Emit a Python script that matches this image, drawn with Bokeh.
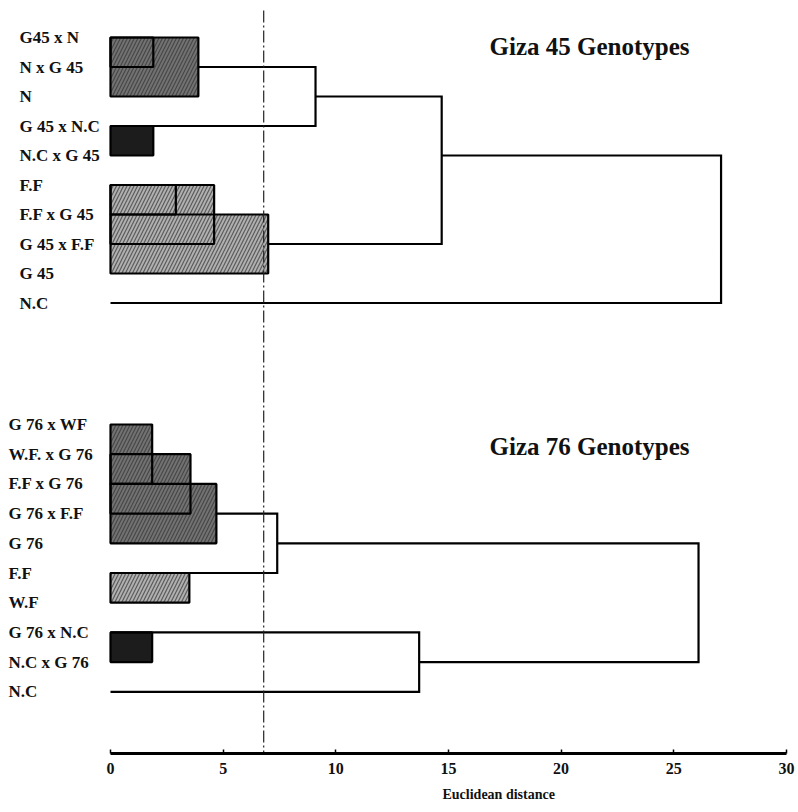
from bokeh.plotting import figure
from bokeh.models import Range1d, FixedTicker, Title
from bokeh.core.properties import value
from bokeh.embed import file_html
from bokeh.resources import INLINE

# ---------------- data ----------------
top_title = "Giza 45 Genotypes"
top_labels = ["G45 x N", "N x G 45", "N", "G 45 x N.C", "N.C x G 45",
              "F.F", "F.F x G 45", "G 45 x F.F", "G 45", "N.C"]
# boxes: first row, last row, distance, shade
top_box_first = [0, 0, 3, 5, 5, 6]
top_box_last = [1, 2, 4, 6, 7, 8]
top_box_dist = [1.9, 3.9, 1.9, 2.9, 4.6, 7.0]
top_box_shade = ["mid", "mid", "dark", "light", "light", "light"]
# merges: upper row, upper start, lower row, lower start, merge distance
top_m_row_a = [1, 2, 4]
top_m_from_a = [3.9, 9.1, 14.7]
top_m_row_b = [3, 7, 9]
top_m_from_b = [0.0, 7.0, 0.0]
top_m_dist = [9.1, 14.7, 27.1]

bot_title = "Giza 76 Genotypes"
bot_labels = ["G 76 x WF", "W.F. x G 76", "F.F x G 76", "G 76 x F.F", "G 76",
              "F.F", "W.F", "G 76 x N.C", "N.C x G 76", "N.C"]
bot_box_first = [0, 1, 2, 5, 7]
bot_box_last = [2, 3, 4, 6, 8]
bot_box_dist = [1.85, 3.55, 4.7, 3.5, 1.85]
bot_box_shade = ["mid", "mid", "mid", "light", "dark"]
bot_m_row_a = [3, 7, 4]
bot_m_from_a = [4.7, 0.0, 7.4]
bot_m_row_b = [5, 9, 8]
bot_m_from_b = [0.0, 0.0, 13.7]
bot_m_dist = [7.4, 13.7, 26.1]

cutoff = 6.8
x_ticks = [0, 5, 10, 15, 20, 25, 30]
x_title = "Euclidean distance"

# ---------------- layout ----------------
SERIF = "Liberation Serif"
PX = 22.53          # pixels per distance unit
ZERO_PX = 110       # screen x of distance 0
FW = 796
shade_fill = {"mid": "#727272", "light": "#b0b0b0", "dark": "#1c1c1c"}
shade_hatch_alpha = {"mid": 0.55, "light": 0.6, "dark": 0.0}

x0 = -ZERO_PX / PX
p = figure(frame_width=FW, frame_height=753, output_backend="svg",
           toolbar_location=None, y_axis_location=None,
           x_range=Range1d(x0, x0 + FW / PX), y_range=Range1d(753, 0),
           min_border=0, background_fill_color="white")
p.outline_line_color = None
p.grid.visible = False

panels = [
    dict(y0=37.0, step=29.5, lab_px=19, labels=top_labels, title=top_title, title_y=46,
         bf=top_box_first, bl=top_box_last, bd=top_box_dist, bs=top_box_shade,
         ra=top_m_row_a, fa=top_m_from_a, rb=top_m_row_b, fb=top_m_from_b, md=top_m_dist),
    dict(y0=424.0, step=29.7, lab_px=8, labels=bot_labels, title=bot_title, title_y=446,
         bf=bot_box_first, bl=bot_box_last, bd=bot_box_dist, bs=bot_box_shade,
         ra=bot_m_row_a, fa=bot_m_from_a, rb=bot_m_row_b, fb=bot_m_from_b, md=bot_m_dist),
]

for pn in panels:
    ry = lambda r, pn=pn: pn["y0"] + r * pn["step"]
    lab_x = (pn["lab_px"] - ZERO_PX) / PX
    # leaf labels
    p.text(x=[lab_x] * len(pn["labels"]),
           y=[ry(i) for i in range(len(pn["labels"]))],
           text=pn["labels"], text_font=value(SERIF), text_font_style="bold",
           text_font_size="17px", text_baseline="middle", text_align="left",
           text_color="#111111")
    # box fills
    for f, l, d, s in zip(pn["bf"], pn["bl"], pn["bd"], pn["bs"]):
        p.quad(left=[0], right=[d], top=[ry(f)], bottom=[ry(l)],
               fill_color=shade_fill[s], line_alpha=0,
               hatch_pattern="/", hatch_color="#222222",
               hatch_alpha=shade_hatch_alpha[s], hatch_scale=7, hatch_weight=1.2)
    # box outlines
    p.quad(left=[0] * len(pn["bd"]), right=pn["bd"],
           top=[ry(f) for f in pn["bf"]], bottom=[ry(l) for l in pn["bl"]],
           fill_alpha=0, line_color="black", line_width=2.2)
    # merge brackets
    xs, ys = [], []
    for ra, fa, rb, fb, md in zip(pn["ra"], pn["fa"], pn["rb"], pn["fb"], pn["md"]):
        xs.append([fa, md, md, fb])
        ys.append([ry(ra), ry(ra), ry(rb), ry(rb)])
    p.multi_line(xs=xs, ys=ys, line_color="black", line_width=2.2, line_join="miter")
    # panel title
    p.text(x=[(489 - ZERO_PX) / PX], y=[pn["title_y"]], text=[pn["title"]],
           text_font=value(SERIF), text_font_style="bold", text_font_size="25px",
           text_baseline="middle", text_align="left", text_color="#111111")

# cut-off line
p.segment(x0=[cutoff], y0=[10], x1=[cutoff], y1=[753], line_color="#222222",
          line_width=1.2, line_dash="12 3 2 3")

ax = p.xaxis[0]
ax.bounds = (0, 30)
ax.ticker = FixedTicker(ticks=x_ticks)
ax.minor_tick_line_color = None
ax.major_tick_in = 4
ax.major_tick_out = 0
ax.major_tick_line_width = 1.5
ax.axis_line_width = 3
ax.axis_line_color = "black"
ax.major_label_text_font = SERIF
ax.major_label_text_font_style = "bold"
ax.major_label_text_font_size = "16px"
ax.major_label_text_color = "#111111"
ax.major_label_standoff = 9

p.add_layout(Title(text=x_title, align="left", offset=442, text_font=SERIF,
                   text_font_style="bold", text_font_size="14px",
                   text_color="#111111", standoff=17), "below")

open("out.html", "w").write(file_html(p, INLINE))
